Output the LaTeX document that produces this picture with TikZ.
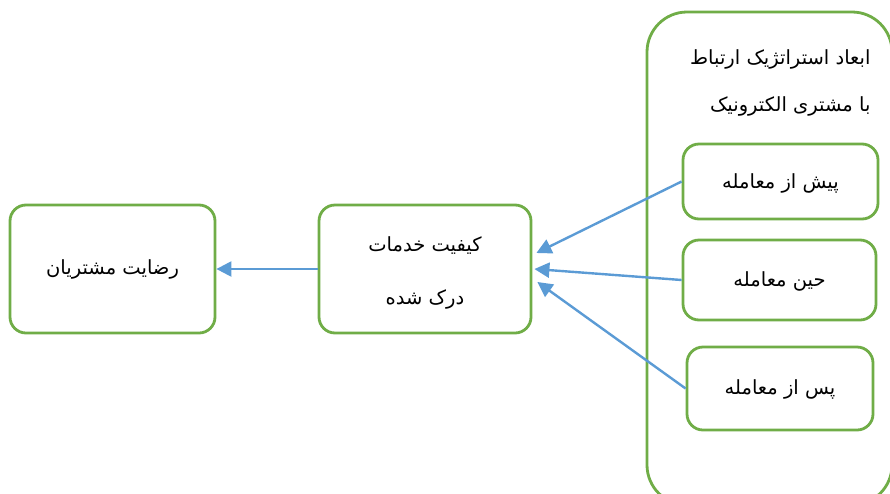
\documentclass[tikz,border=0pt]{standalone}
\usepackage{fontspec}
\TeXXeTstate=1
\newfontfamily\arabicfont[Script=Arabic]{DejaVu Sans}
\usetikzlibrary{arrows.meta}
\definecolor{boxgreen}{HTML}{70AD47}
\definecolor{arrowblue}{HTML}{5B9BD5}
\tikzset{
  gbox/.style={draw=boxgreen, line width=2.8pt, rounded corners=16pt, fill=white, inner sep=0pt},
  fa/.style={font=\arabicfont\fontsize{19.5}{53}\selectfont, text=black},
  barrow/.style={draw=arrowblue, line width=2.4pt, -{Triangle[length=15pt,width=15pt]}}
}
\begin{document}
\begin{tikzpicture}[x=1pt,y=-1pt]
\useasboundingbox (0,0) rectangle (890,493);
\clip (0,0) rectangle (890,493);
% container
\node[gbox, rounded corners=40pt, minimum width=245pt, minimum height=493pt] (dims) at (769.5,258.5) {};
\node[fa, anchor=east] (h1) at (874,59) {\beginR ابعاد استراتژیک ارتباط\endR};
\node[fa, anchor=east] (h2) at (874,106) {\beginR با مشتری الکترونیک\endR};
% right boxes
\node[gbox, fa, minimum width=195pt, minimum height=75pt] (pre) at (780.5,181.5) {\raisebox{-2pt}[\height][\depth]{\beginR پیش از معامله\endR}};
\node[gbox, fa, minimum width=193pt, minimum height=80pt] (dur) at (779.5,280) {\raisebox{-1pt}[\height][\depth]{\beginR حین معامله\endR}};
\node[gbox, fa, minimum width=186pt, minimum height=83pt] (post) at (780,388.5) {\raisebox{-1pt}[\height][\depth]{\beginR پس از معامله\endR}};
% middle box
\node[gbox, fa, align=center, minimum width=212pt, minimum height=128pt] (mid) at (425,269)
  {\raisebox{-4pt}[\height][\depth]{\beginR کیفیت خدمات\endR}\\\raisebox{-4pt}[\height][\depth]{\beginR درک شده\endR}};
% left box
\node[gbox, fa, minimum width=205pt, minimum height=128pt] (sat) at (112.5,269) {\beginR رضایت مشتریان\endR};
% arrows
\draw[barrow] (mid.west) -- (sat.east);
\draw[barrow] (pre.west) -- ([xshift=4pt,yshift=16pt]mid.east);
\draw[barrow] (dur.west) -- ([xshift=2pt,yshift=0pt]mid.east);
\draw[barrow] (post.west) -- ([xshift=5pt,yshift=-13pt]mid.east);
\end{tikzpicture}
\end{document}
